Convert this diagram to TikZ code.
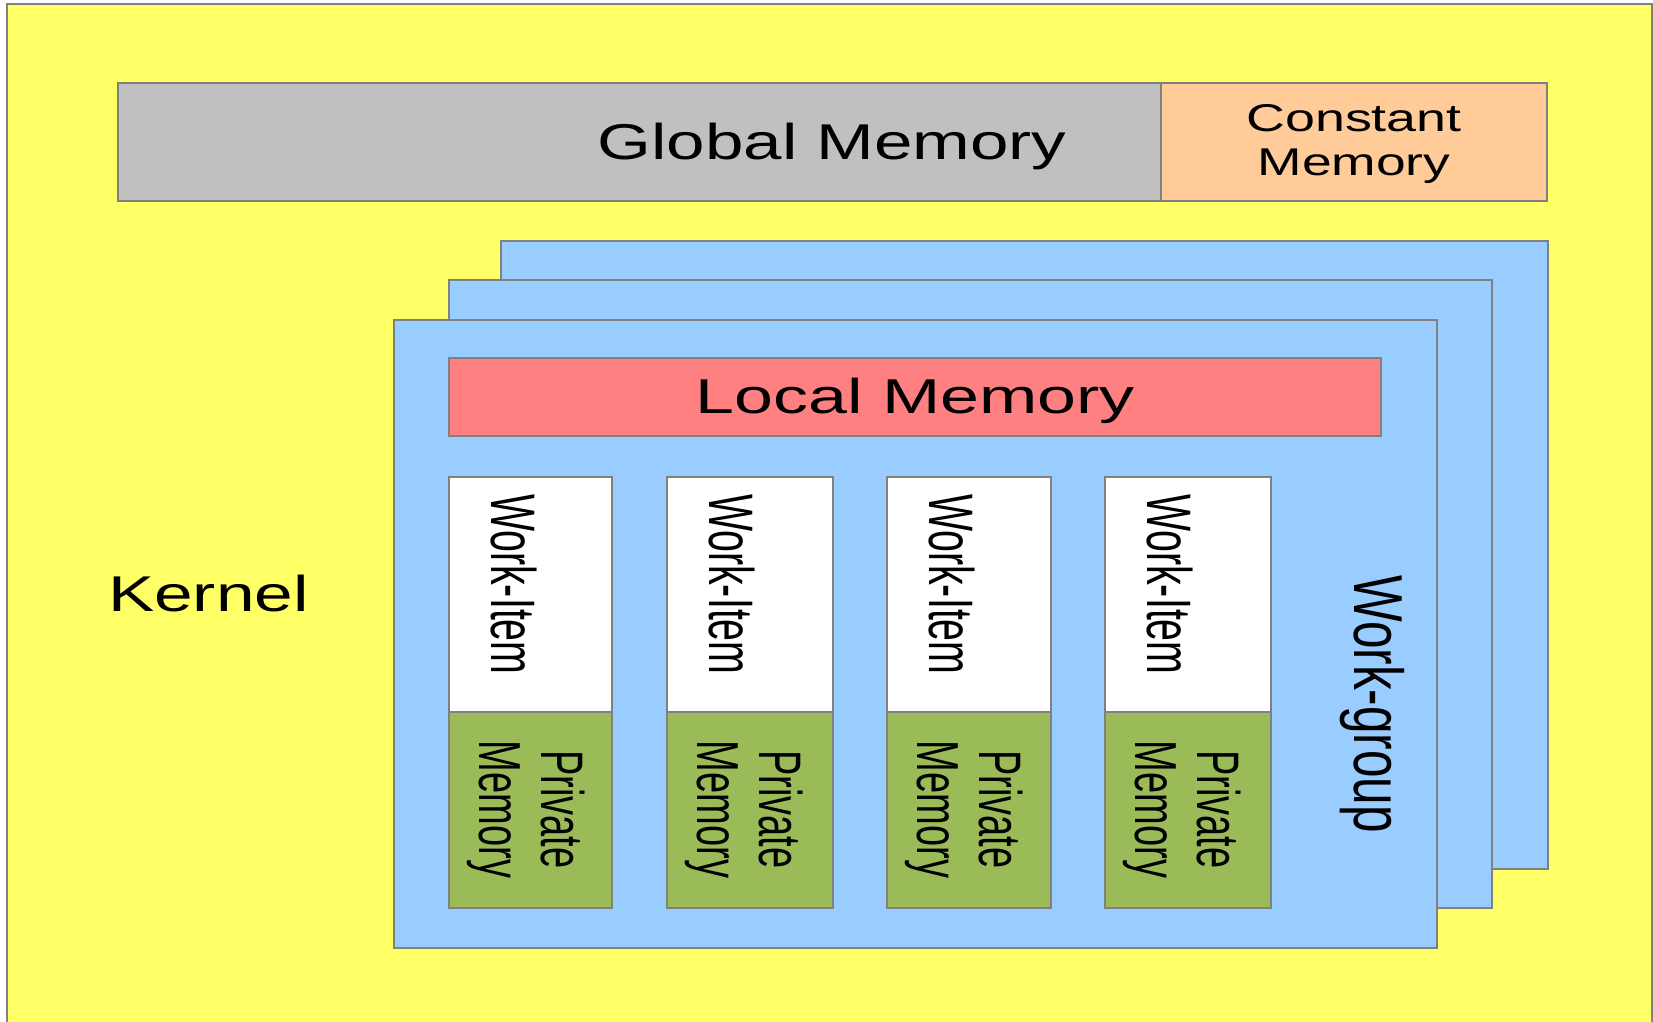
\documentclass[tikz,border=0pt]{standalone}
\usepackage{fontspec}
\usepackage{graphicx}
\setmainfont{Liberation Sans}
\definecolor{kyellow}{HTML}{FFFF66}
\definecolor{kgray}{HTML}{C0C0C0}
\definecolor{kpeach}{HTML}{FFCC99}
\definecolor{kblue}{HTML}{99CCFF}
\definecolor{kred}{HTML}{FF8080}
\definecolor{kgreen}{HTML}{9BBB59}
\definecolor{kline}{HTML}{808080}
\newcommand\htext[3]{\scalebox{#2}[1]{\fontsize{#1}{#1}\selectfont #3}}
\newcommand\vtext[3]{\scalebox{1}[#2]{\fontsize{#1}{#1}\selectfont #3}}
\begin{document}
\begin{tikzpicture}[x=1pt,y=-1pt,
  box/.style={draw=kline,line width=2pt},
  lbl/.style={inner sep=0pt,outer sep=0pt,text=black},
  rlbl/.style={lbl,rotate=-90}]
\useasboundingbox (0,0) rectangle (1653,1021);
\fill[white] (0,0) rectangle (1653,1021);
% kernel
\draw[box,fill=kyellow] (7,4) rectangle (1652,1040);
% global / constant memory
\draw[box,fill=kgray] (118,83) rectangle (1547,201);
\draw[box,fill=kpeach] (1161,83) rectangle (1547,201);
\node[lbl,anchor=base] (gm) at (832,159) {\htext{50.3}{1.375}{Global Memory}};
\node[lbl,anchor=base] (cm1) at (1354,131) {\htext{38.7}{1.39}{Constant}};
\node[lbl,anchor=base] (cm2) at (1354,175) {\htext{38.7}{1.38}{Memory}};
\node[lbl,anchor=base west] (kern) at (108,611) {\htext{50.3}{1.38}{Kernel}};
% work-groups
\draw[box,fill=kblue] (501,241) rectangle (1548,869);
\draw[box,fill=kblue] (449,280) rectangle (1492,908);
\draw[box,fill=kblue] (394,320) rectangle (1437,948);
% local memory
\draw[box,fill=kred] (449,358) rectangle (1381,436);
\node[lbl,anchor=base] (lm) at (915.5,413) {\htext{48.9}{1.43}{Local Memory}};
% work items
\foreach \l/\r [count=\i] in {449/612, 667/833, 887/1051, 1105/1271}{
  \draw[box,fill=white] (\l,477) rectangle (\r,712);
  \draw[box,fill=kgreen] (\l,712) rectangle (\r,908);
  \node[rlbl,anchor=base west] (wi\i) at (\l+42,494) {\vtext{39.3}{1.6}{Work-Item}};
  \node[rlbl,anchor=base] (pa\i) at (\l+92,809.5) {\vtext{38}{1.58}{Private}};
  \node[rlbl,anchor=base] (pb\i) at (\l+30,809.5) {\vtext{38}{1.56}{Memory}};
}
\node[rlbl,anchor=base] (wg) at (1354,704) {\vtext{49.5}{1.4}{Work-group}};
\end{tikzpicture}
\end{document}
